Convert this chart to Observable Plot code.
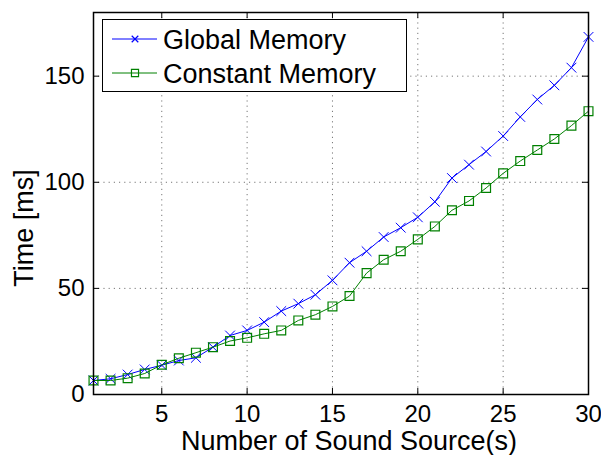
<!DOCTYPE html>
<html><head><meta charset="utf-8">
<script src="https://cdn.jsdelivr.net/npm/d3@7"></script>
<script src="https://cdn.jsdelivr.net/npm/@observablehq/plot@0.6"></script>
<style>body{margin:0;background:#fff;} #chart{position:relative;width:601px;height:455px;}</style>
</head><body><div id="chart"></div>
<script>
const sources = d3.range(1, 31);
const globalMem = [6.6,7.4,9.4,11.8,13.8,16,17.3,22.3,27.8,30.2,34.1,39.3,42.8,47,53.8,62.1,67.5,74.2,78.6,83.5,90.8,102,108.3,114.5,121.8,130.8,139,145.7,154,168.5];
const constMem = [6.6,6.6,7.7,9.9,14,17.1,19.7,22.3,25.2,26.7,28.6,30.2,34.9,37.6,41.5,46.4,57.2,63.5,67.5,73.1,79.2,86.8,91.2,97.3,104.2,110,115.2,120.4,126.7,133.5];
const xTicks = [5,10,15,20,25,30];
const yTicks = [0,50,100,150];
const seriesNames = ["Global Memory","Constant Memory"];

const gData = sources.map((s,i)=>({x:s,y:globalMem[i]}));
const cData = sources.map((s,i)=>({x:s,y:constMem[i]}));

const font = "Liberation Sans, Arial, sans-serif";
const W = 601, H = 455, mL = 93, mR = 13, mT = 12, mB = 61;
const pw = W - mL - mR, ph = H - mT - mB;
const blue = "#0000ff", green = "#008000";

const chart = Plot.plot({
  width: W, height: H,
  marginLeft: mL, marginRight: mR, marginTop: mT, marginBottom: mB,
  style: {fontFamily: font, fontSize: "24px", background: "#fff", color: "#000"},
  x: {domain: [1, 30]},
  y: {domain: [0, 180]},
  marks: [
    Plot.ruleX(xTicks.filter(d=>d<30), {x: d=>d, stroke: "#777", strokeDasharray: "1.2,4", strokeWidth: 1}),
    Plot.ruleY(yTicks.filter(d=>d>0), {y: d=>d, stroke: "#777", strokeDasharray: "1.2,4", strokeWidth: 1}),
    Plot.ruleX(xTicks, {x: d=>d, insetTop: ph - 6, stroke: "#000"}),
    Plot.ruleX(xTicks, {x: d=>d, insetBottom: ph - 6, stroke: "#000"}),
    Plot.ruleY(yTicks, {y: d=>d, insetRight: pw - 6, stroke: "#000"}),
    Plot.ruleY(yTicks, {y: d=>d, insetLeft: pw - 6, stroke: "#000"}),
    Plot.axisX({ticks: xTicks, tickSize: 0, tickPadding: 10, label: null, fontSize: 24}),
    Plot.axisY({ticks: yTicks, tickSize: 0, tickPadding: 9, label: null, fontSize: 24}),
    Plot.line(gData, {x: "x", y: "y", stroke: blue, strokeWidth: 1}),
    Plot.dot(gData, {x: "x", y: "y", symbol: "times", r: 4.5, stroke: blue, strokeWidth: 1}),
    Plot.line(cData, {x: "x", y: "y", stroke: green, strokeWidth: 1}),
    Plot.dot(cData, {x: "x", y: "y", symbol: "square", r: 5, stroke: green, fill: "none", strokeWidth: 1.2}),
    Plot.frame({stroke: "#000", strokeWidth: 1.5})
  ]
});
document.getElementById("chart").appendChild(chart);

const svg = d3.select(chart);
svg.append("text").attr("x", 349).attr("y", 450).attr("text-anchor", "middle")
  .attr("font-family", font).attr("font-size", 27).attr("fill", "#000").text("Number of Sound Source(s)");
svg.append("text").attr("transform", "translate(33,228) rotate(-90)").attr("text-anchor", "middle")
  .attr("font-family", font).attr("font-size", 27).attr("fill", "#000").text("Time [ms]");

const lg = svg.append("g").attr("font-family", font).attr("font-size", 27).attr("text-anchor", "start");
lg.append("rect").attr("x", 102.5).attr("y", 19.5).attr("width", 304).attr("height", 72).attr("fill", "#fff").attr("stroke", "#000").attr("stroke-width", 1);
const rows = [{c: blue, sym: d3.symbolTimes, y: 39}, {c: green, sym: d3.symbolSquare, y: 73}];
rows.forEach((r, i) => {
  lg.append("line").attr("x1", 112).attr("x2", 157).attr("y1", r.y).attr("y2", r.y).attr("stroke", r.c);
  lg.append("path").attr("transform", `translate(135,${r.y})`).attr("d", d3.symbol(r.sym, i === 0 ? 30 : 50)()).attr("fill", "none").attr("stroke", r.c).attr("stroke-width", 1.2);
  lg.append("text").attr("x", 163).attr("y", r.y).attr("dy", "0.36em").attr("text-anchor", "start").attr("fill", "#000").text(seriesNames[i]);
});
</script></body></html>
